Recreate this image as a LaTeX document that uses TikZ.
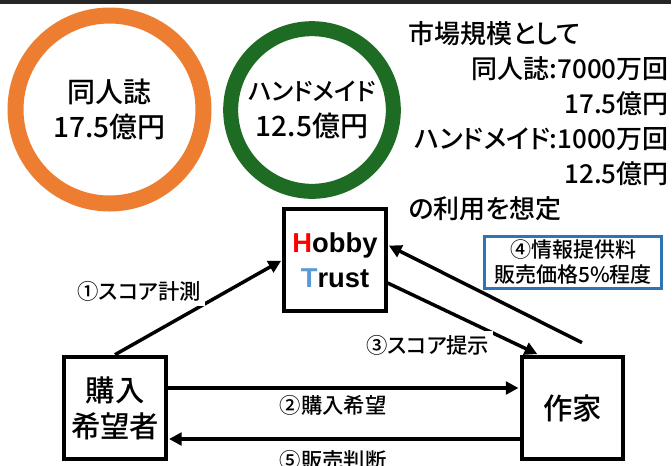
\documentclass[tikz,border=0pt]{standalone}
\usepackage{fontspec}
\setmainfont{Noto Sans CJK JP}[UprightFont = * Medium, RawFeature = +palt]
\newfontfamily\hobbyfont{Liberation Sans}
\usetikzlibrary{arrows.meta, calc}

\definecolor{dojinorange}{HTML}{ED7D31}
\definecolor{handmadegreen}{HTML}{1E6B24}
\definecolor{hobbyred}{HTML}{FF0000}
\definecolor{trustblue}{HTML}{5B9BD5}
\definecolor{infoblue}{HTML}{2E75B6}

\begin{document}
\begin{tikzpicture}[
            x = 0.75pt, y = -0.75pt, % pixel grid, y going down
            > = {Triangle[length=9.5pt, width=9.5pt]}, % arrow head style
            shorten > = 1pt, % don't touch arrow head to node
            line width = 2.6pt % line style
        ]

        \tikzstyle{ring}=[
            circle,
            draw,
            line width = 12pt,
            minimum size = 141pt,
            inner sep = 0pt,
            align = center,
            font = \fontsize{21}{26.5}\selectfont
        ]
        \tikzstyle{actor}=[
            draw = black,
            line width = 3pt,
            fill = white,
            minimum width = 76pt,
            minimum height = 77pt,
            inner sep = 0pt,
            align = center,
            font = \fontsize{22}{27}\selectfont
        ]
        \tikzstyle{flowlabel}=[
            fill = white,
            inner sep = 3pt,
            font = \fontsize{16}{19}\selectfont
        ]

        \useasboundingbox (0,0) rectangle (672,465);
        \draw[line width = 3pt, black!85] (0,2) -- (672,2);

        % market size
        \node[ring, draw = dojinorange] (dojin) at (109.5,109.5) {同人誌\\17.5億円};
        \node[ring, draw = handmadegreen, minimum size = 122pt, line width = 11.25pt] (handmade) at (312,110)
            {{\fontsize{18.4}{26.5}\selectfont ハンドメイド}\\12.5億円};
        \node[anchor = west, text width = 195pt, align = left, inner sep = 0pt,
              font = \fontsize{19.5}{26.25}\selectfont] (market) at (407,121.5)
            {市場規模として\\
             \hspace*{\fill}同人誌:7000万回\\
             \hspace*{\fill}17.5億円\\
             \hspace*{\fill}\llap{ハンドメイド:1000万回}\\
             \hspace*{\fill}12.5億円\\
             の利用を想定};

        % actors
        \node[actor, font = \hobbyfont\bfseries\fontsize{20.5}{26}\selectfont] (hobby) at (335,260)
            {{\color{hobbyred}H}obby\\{\color{trustblue}T}rust};
        \node[actor] (buyer) at (115,408) {購入\\希望者};
        \node[actor] (artist) at (572.5,408) {作家};

        \node[draw = infoblue, line width = 2.2pt, fill = white, minimum width = 133pt,
              minimum height = 39pt, inner sep = 0pt, align = center,
              font = \fontsize{15.75}{18.75}\selectfont] (fee) at (573,262.5)
            {④情報提供料\\販売価格5\%程度};

        % flows
        \draw[->] (buyer.north) -- (hobby.west)
            node[midway, above left, xshift = 6pt, flowlabel] {①スコア計測};
        \draw[->] ($(buyer.east)+(0,-20)$) -- ($(artist.west)+(0,-20)$)
            node[pos=0.47, below, yshift = -1pt, flowlabel] {②購入希望};
        \draw[->] ($(hobby.east)+(0,23)$) -- ($(artist.north)+(-34,0)$)
            node[pos=0.65, below left, xshift = 7pt, flowlabel] {③スコア提示};
        \draw[->] ($(artist.north)+(9.5,-12)$) -- ($(hobby.east)+(0,-15)$);
        \draw[->] ($(artist.west)+(0,31)$) -- ($(buyer.east)+(0,31)$)
            node[pos=0.53, below, yshift = -4.5pt, flowlabel] {⑤販売判断};

    \end{tikzpicture}
\end{document}
